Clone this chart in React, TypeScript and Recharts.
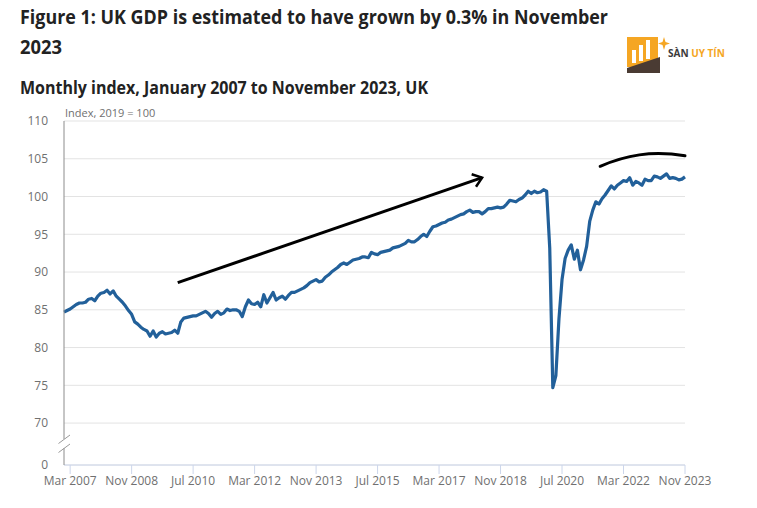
import React from 'react'
import {
  LineChart,
  Line,
  XAxis,
  YAxis,
  CartesianGrid,
  ReferenceLine,
} from 'recharts'

// Monthly GDP index (2019 = 100), Jan 2007 .. Nov 2023
const gdp2007 = [84.7, 84.9, 85.1, 85.4, 85.7, 85.9, 85.9, 86.0, 86.4, 86.5, 86.2, 86.8]
const gdp2008 = [87.2, 87.3, 87.6, 87.1, 87.5, 86.8, 86.4, 86.0, 85.5, 84.9, 84.4, 83.4]
const gdp2009 = [83.1, 82.7, 82.4, 82.2, 81.5, 82.2, 81.4, 81.9, 82.1, 81.8, 81.9, 82.0]
const gdp2010 = [82.3, 81.9, 83.4, 83.9, 84.0, 84.1, 84.2, 84.2, 84.4, 84.6, 84.8, 84.5]
const gdp2011 = [84.0, 84.5, 84.8, 84.4, 84.6, 85.1, 84.9, 85.0, 85.0, 84.8, 84.1, 85.4]
const gdp2012 = [86.3, 85.8, 85.7, 86.0, 85.4, 87.0, 85.9, 86.6, 87.3, 86.3, 86.6, 86.8]
const gdp2013 = [86.4, 86.9, 87.3, 87.3, 87.5, 87.7, 87.9, 88.2, 88.6, 88.8, 89.0, 88.7]
const gdp2014 = [88.8, 89.3, 89.6, 90.0, 90.3, 90.6, 91.0, 91.2, 91.0, 91.3, 91.6, 91.7]
const gdp2015 = [91.8, 92.0, 92.0, 91.9, 92.6, 92.4, 92.3, 92.6, 92.7, 92.8, 92.9, 93.2]
const gdp2016 = [93.3, 93.4, 93.6, 93.8, 94.2, 94.0, 94.0, 94.3, 94.7, 95.0, 94.7, 95.4]
const gdp2017 = [96.0, 96.1, 96.3, 96.5, 96.6, 96.9, 97.0, 97.2, 97.4, 97.6, 97.7, 98.0]
const gdp2018 = [98.2, 97.9, 98.0, 98.0, 97.7, 98.0, 98.4, 98.4, 98.5, 98.6, 98.5, 98.6]
const gdp2019 = [99.0, 99.5, 99.4, 99.3, 99.6, 99.8, 100.2, 100.7, 100.4, 100.7, 100.5, 100.6]
const gdp2020 = [100.9, 100.7, 93.2, 74.7, 76.3, 83.8, 89.0, 91.8, 92.9, 93.6, 91.7, 92.9]
const gdp2021 = [90.3, 91.6, 93.4, 96.7, 98.2, 99.3, 99.0, 99.7, 100.2, 100.8, 101.4, 101.0]
const gdp2022 = [101.5, 101.8, 102.1, 102.0, 102.5, 101.5, 102.0, 101.8, 101.5, 102.3, 102.1, 102.1]
const gdp2023 = [102.7, 102.6, 102.4, 102.7, 103.0, 102.4, 102.5, 102.4, 102.2, 102.3, 102.6]

const gdpIndex = [
  ...gdp2007, ...gdp2008, ...gdp2009, ...gdp2010, ...gdp2011, ...gdp2012,
  ...gdp2013, ...gdp2014, ...gdp2015, ...gdp2016, ...gdp2017, ...gdp2018,
  ...gdp2019, ...gdp2020, ...gdp2021, ...gdp2022, ...gdp2023,
]

// x ticks: month index from Jan 2007
const xTicks = [2, 22, 42, 62, 82, 102, 122, 142, 162, 182, 202]
const xTickLabels = [
  'Mar 2007', 'Nov 2008', 'Jul 2010', 'Mar 2012', 'Nov 2013', 'Jul 2015',
  'Mar 2017', 'Nov 2018', 'Jul 2020', 'Mar 2022', 'Nov 2023',
]
const yTicks = [70, 75, 80, 85, 90, 95, 100, 105, 110]
// the axis is broken below 70, "0" sits at this position
const AXIS_FLOOR = 64.45

// hand drawn annotations (data coordinates)
const trendArrow = [{ x: 37, y: 88.6 }, { x: 136, y: 102.5 }]
const trendCurve = [{ x: 174.4, y: 104.0 }, { x: 202, y: 105.4 }]

const data = gdpIndex.map((value, m) => ({ m, value }))

const FONT = '"Open Sans", sans-serif'

const ArrowShape = (p: any) => {
  const { x1, y1, x2, y2 } = p
  const ang = Math.atan2(y2 - y1, x2 - x1)
  const len = 11
  const spread = 0.65
  const ax = x2 - len * Math.cos(ang - spread)
  const ay = y2 - len * Math.sin(ang - spread)
  const bx = x2 - len * Math.cos(ang + spread)
  const by = y2 - len * Math.sin(ang + spread)
  return (
    <g>
      <line x1={x1} y1={y1} x2={x2} y2={y2} stroke="#000" strokeWidth={3} />
      <polyline
        points={`${ax},${ay} ${x2},${y2} ${bx},${by}`}
        fill="none"
        stroke="#000"
        strokeWidth={2.5}
      />
    </g>
  )
}

const CurveShape = (p: any) => {
  const { x1, y1, x2, y2 } = p
  const dx = x2 - x1
  const d = `M${x1},${y1} C${x1 + 0.3 * dx},${y1 - 11} ${x1 + 0.6 * dx},${y1 - 16} ${x2},${y2}`
  return <path d={d} fill="none" stroke="#000" strokeWidth={3} strokeLinecap="round" />
}

function Logo() {
  return (
    <g>
      <rect x={627} y={37} width={31} height={30} fill="#f5a623" />
      <rect x={632} y={50} width={4} height={13} fill="#fff" />
      <rect x={639} y={45} width={4} height={16} fill="#fff" />
      <rect x={646} y={40} width={4} height={19} fill="#fff" />
      <polygon points="627,73 660,73 660,57 627,68" fill="#4a3b33" />
      <polygon points="664,37 665.5,42 670,43.5 665.5,45 664,50 662.5,45 658,43.5 662.5,42" fill="#f5a623" />
      <text x={668} y={57} fontFamily={FONT} fontWeight={700} fontSize={10}>
        <tspan fill="#3b3b3b">SÀN </tspan>
        <tspan fill="#f5a623">UY TÍN</tspan>
      </text>
    </g>
  )
}

export default function App() {
  return (
    <div style={{ position: 'absolute', left: 0, top: 0, width: 757, height: 508, background: '#fff' }}>
      <svg width={757} height={106} style={{ position: 'absolute', left: 0, top: 0 }}>
        <text x={20} y={24} fontFamily={FONT} fontWeight={700} fontSize={20} fill="#222"
          textLength={588} lengthAdjust="spacingAndGlyphs">
          Figure 1: UK GDP is estimated to have grown by 0.3% in November
        </text>
        <text x={20} y={54} fontFamily={FONT} fontWeight={700} fontSize={20} fill="#222"
          textLength={42} lengthAdjust="spacingAndGlyphs">
          2023
        </text>
        <text x={20} y={94} fontFamily={FONT} fontWeight={700} fontSize={17} fill="#222"
          textLength={408} lengthAdjust="spacingAndGlyphs">
          Monthly index, January 2007 to November 2023, UK
        </text>
        <Logo />
      </svg>

      <div style={{ position: 'absolute', left: 0, top: 0 }}>
        <LineChart
          width={757}
          height={508}
          data={data}
          margin={{ top: 121, right: 72, left: 4, bottom: 13 }}
        >
          <CartesianGrid vertical={false} stroke="#e3e3e3" />
          <XAxis
            dataKey="m"
            type="number"
            domain={[0, 202]}
            ticks={xTicks}
            interval={0}
            height={30}
            tickFormatter={(v: number) => xTickLabels[xTicks.indexOf(v)] ?? ''}
            axisLine={{ stroke: '#ccd6eb' }}
            tickLine={{ stroke: '#ccd6eb' }}
            tickSize={9}
            tickMargin={2}
            tick={{ fontSize: 12, fill: '#707070', fontFamily: FONT }}
          />
          <YAxis
            type="number"
            domain={[AXIS_FLOOR, 110]}
            ticks={[AXIS_FLOOR, ...yTicks]}
            interval={0}
            allowDataOverflow
            width={60}
            tickFormatter={(v: number) => (v === AXIS_FLOOR ? '0' : String(v))}
            axisLine={{ stroke: '#8c8c8c' }}
            tickLine={false}
            tickSize={6}
            tickMargin={10}
            tick={{ fontSize: 12, fill: '#707070', fontFamily: FONT }}
          />
          <Line
            type="linear"
            dataKey="value"
            stroke="#22609a"
            strokeWidth={3.2}
            dot={false}
            strokeLinejoin="round"
            isAnimationActive={false}
          />
          <ReferenceLine segment={trendArrow} shape={ArrowShape} ifOverflow="visible" />
          <ReferenceLine segment={trendCurve} shape={CurveShape} ifOverflow="visible" />
        </LineChart>
      </div>

      {/* axis break */}
      <svg width={80} height={30} style={{ position: 'absolute', left: 50, top: 430 }}>
        <rect x={11} y={9} width={6} height={9} fill="#fff" />
        <line x1={8.5} y1={13.5} x2={20} y2={5} stroke="#999" strokeWidth={1} />
        <line x1={8.5} y1={22.5} x2={20} y2={14} stroke="#999" strokeWidth={1} />
      </svg>

      {/* unit label */}
      <div style={{ position: 'absolute', left: 65, top: 106, fontFamily: FONT, fontSize: 11, lineHeight: '13px', color: '#707070', whiteSpace: 'nowrap' }}>
        Index, 2019 = 100
      </div>
    </div>
  )
}
